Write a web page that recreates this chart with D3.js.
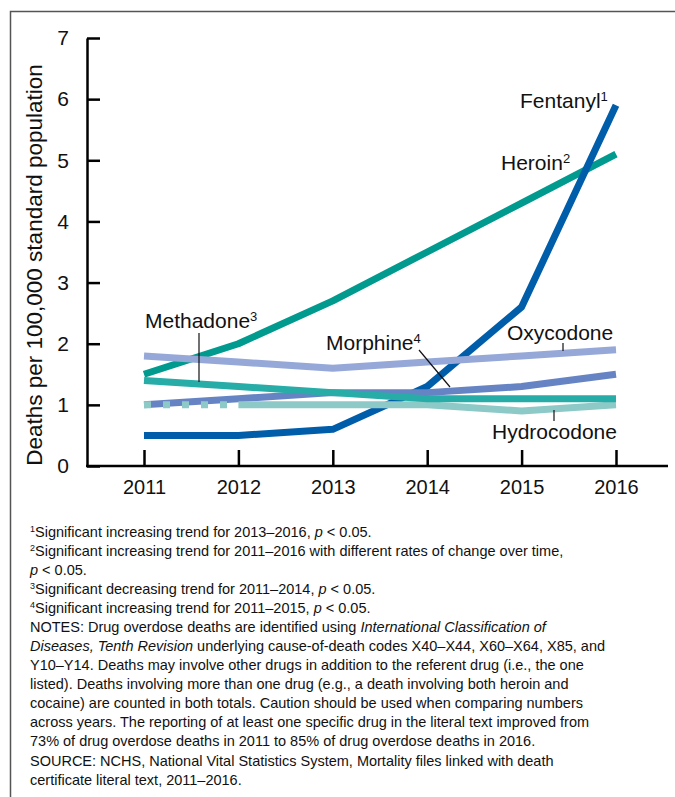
<!DOCTYPE html>
<html>
<head>
<meta charset="utf-8">
<script src="https://cdn.jsdelivr.net/npm/d3@7"></script>
<style>
  body { margin: 0; background: #fff; }
  text { font-family: "Liberation Sans", Arial, sans-serif; fill: #111; }
</style>
</head>
<body>
<svg id="chart" width="675" height="797"></svg>
<script>
// data
const years = [2011, 2012, 2013, 2014, 2015, 2016];
const fentanyl = [0.5, 0.5, 0.6, 1.3, 2.6, 5.9];
const heroin = [1.5, 2.0, 2.7, 3.5, 4.3, 5.1];
const oxycodone = [1.8, 1.7, 1.6, 1.7, 1.8, 1.9];
const morphine = [1.0, 1.1, 1.2, 1.2, 1.3, 1.5];
const methadone = [1.4, 1.3, 1.2, 1.1, 1.1, 1.1];
const hydrocodone = [1.0, 1.0, 1.0, 1.0, 0.9, 1.0];
const yTicks = [0, 1, 2, 3, 4, 5, 6, 7];

// drawn bottom to top
const series = [
  { name: 'Heroin', values: heroin, color: '#009a8e' },
  { name: 'Fentanyl', values: fentanyl, color: '#005daa' },
  { name: 'Morphine', values: morphine, color: '#6684c4' },
  { name: 'Hydrocodone', values: hydrocodone, color: '#8dcac7', dashFirst: true },
  { name: 'Methadone', values: methadone, color: '#27aca8' },
  { name: 'Oxycodone', values: oxycodone, color: '#95a8d8' }
];

const svg = d3.select('#chart');

// outer frame
svg.append('rect')
  .attr('x', 10.5).attr('y', 11.5)
  .attr('width', 700).attr('height', 820)
  .attr('fill', 'none').attr('stroke', '#555').attr('stroke-width', 1.5);

const x = d3.scaleLinear().domain([2011, 2016]).range([144, 616]);
const y = d3.scaleLinear().domain([0, 7]).range([466, 38]);

// y axis
const yAxis = svg.append('g')
  .attr('transform', 'translate(87,0)')
  .call(d3.axisLeft(y).tickValues(yTicks).tickFormat(d3.format('d'))
    .tickSizeInner(-13).tickSizeOuter(0).tickPadding(18));
yAxis.select('.domain').attr('stroke', '#000').attr('stroke-width', 2.5);
yAxis.selectAll('.tick line').attr('stroke', '#000').attr('stroke-width', 2.5);
yAxis.selectAll('.tick text').attr('font-size', 21).attr('font-family', 'Liberation Sans, Arial, sans-serif').attr('fill', '#111');

// x axis
const xAxis = svg.append('g')
  .attr('transform', `translate(0,${y(0)})`)
  .call(d3.axisBottom(x).tickValues(years).tickFormat(d3.format('d'))
    .tickSizeInner(-16).tickSizeOuter(0).tickPadding(14));
xAxis.select('.domain').remove();
xAxis.append('line')
  .attr('x1', 86).attr('x2', 668)
  .attr('stroke', '#000').attr('stroke-width', 2.5);
xAxis.selectAll('.tick line').attr('stroke', '#000').attr('stroke-width', 2.5);
xAxis.selectAll('.tick text').attr('font-size', 20).attr('font-family', 'Liberation Sans, Arial, sans-serif').attr('fill', '#111');

// y axis title
svg.append('text')
  .attr('transform', 'translate(42,265) rotate(-90)')
  .attr('text-anchor', 'middle')
  .attr('font-size', 22.5)
  .text('Deaths per 100,000 standard population');

// lines
const line = d3.line()
  .x((d, i) => x(years[i]))
  .y(d => y(d));

series.forEach(s => {
  if (s.dashFirst) {
    svg.append('path')
      .attr('d', line(s.values.slice(0, 2)))
      .attr('fill', 'none').attr('stroke', s.color).attr('stroke-width', 7)
      .attr('stroke-dasharray', '7,12');
    svg.append('path')
      .attr('d', d3.line().x((d, i) => x(years[i + 1])).y(d => y(d))(s.values.slice(1)))
      .attr('fill', 'none').attr('stroke', s.color).attr('stroke-width', 7)
      .attr('stroke-linejoin', 'round');
  } else {
    svg.append('path')
      .attr('d', line(s.values))
      .attr('fill', 'none').attr('stroke', s.color).attr('stroke-width', 7)
      .attr('stroke-linejoin', 'round');
  }
});

// labels and leader lines
function label(tx, ty, main, sup) {
  const t = svg.append('text').attr('x', tx).attr('y', ty).attr('font-size', 21);
  t.append('tspan').text(main);
  if (sup) t.append('tspan').attr('font-size', 13).attr('dy', -7).text(sup);
}
label(520, 108, 'Fentanyl', '1');
label(501, 170, 'Heroin', '2');
label(145, 328, 'Methadone', '3');
label(326, 350, 'Morphine', '4');
label(507, 340, 'Oxycodone');
label(492, 439, 'Hydrocodone');

const leaders = [
  [199, 333, 199, 382],
  [419, 350, 450, 387],
  [563, 343, 563, 351],
  [554, 410, 554, 421]
];
leaders.forEach(l => {
  svg.append('line')
    .attr('x1', l[0]).attr('y1', l[1]).attr('x2', l[2]).attr('y2', l[3])
    .attr('stroke', '#111').attr('stroke-width', 1.2);
});

// footnotes
const notes = [
  [['sup', '1'], ['', 'Significant increasing trend for 2013–2016, '], ['i', 'p'], ['', ' < 0.05.']],
  [['sup', '2'], ['', 'Significant increasing trend for 2011–2016 with different rates of change over time,']],
  [['i', 'p'], ['', ' < 0.05.']],
  [['sup', '3'], ['', 'Significant decreasing trend for 2011–2014, '], ['i', 'p'], ['', ' < 0.05.']],
  [['sup', '4'], ['', 'Significant increasing trend for 2011–2015, '], ['i', 'p'], ['', ' < 0.05.']],
  [['', 'NOTES: Drug overdose deaths are identified using '], ['i', 'International Classification of']],
  [['i', 'Diseases, Tenth Revision'], ['', ' underlying cause-of-death codes X40–X44, X60–X64, X85, and']],
  [['', 'Y10–Y14. Deaths may involve other drugs in addition to the referent drug (i.e., the one']],
  [['', 'listed). Deaths involving more than one drug (e.g., a death involving both heroin and']],
  [['', 'cocaine) are counted in both totals. Caution should be used when comparing numbers']],
  [['', 'across years. The reporting of at least one specific drug in the literal text improved from']],
  [['', '73% of drug overdose deaths in 2011 to 85% of drug overdose deaths in 2016.']],
  [['', 'SOURCE: NCHS, National Vital Statistics System, Mortality files linked with death']],
  [['', 'certificate literal text, 2011–2016.']]
];
notes.forEach((parts, i) => {
  const t = svg.append('text')
    .attr('x', 30).attr('y', 537 + i * 19 + (i >= 12 ? 1 : 0))
    .attr('font-size', 14.5);
  parts.forEach(p => {
    const ts = t.append('tspan').text(p[1]);
    if (p[0] === 'i') ts.attr('font-style', 'italic');
    if (p[0] === 'sup') ts.attr('font-size', 9).attr('dy', -5);
    if (p[0] === '' && parts[0][0] === 'sup' && p === parts[1]) ts.attr('dy', 5);
  });
});
</script>
</body>
</html>
